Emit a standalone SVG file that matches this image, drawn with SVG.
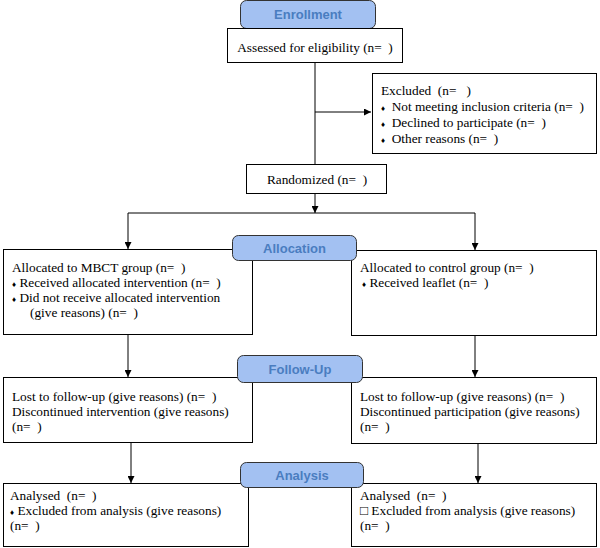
<svg xmlns="http://www.w3.org/2000/svg" width="600" height="548" viewBox="0 0 600 548">
<defs>
<marker id="ah" viewBox="0 0 10 10" refX="10" refY="5" markerWidth="7" markerHeight="7" markerUnits="userSpaceOnUse" orient="auto"><path d="M0,0 L10,5 L0,10 z" fill="#000"/></marker>
<style>
.box{fill:#fff;stroke:#000;stroke-width:1}
.pill{fill:#a3c1f2;stroke:#333;stroke-width:1}
.pt{font-family:"Liberation Sans",Arial,sans-serif;font-weight:bold;font-size:13px;fill:#4a7dc0;text-anchor:middle}
.t{font-family:"Liberation Serif","DejaVu Serif",serif;font-size:13.3px;fill:#000;white-space:pre}
.m{text-anchor:middle}
.b{font-size:8px}
.c{stroke:#000;stroke-width:1;fill:none}
</style>
</defs>
<rect width="600" height="548" fill="#fff"/>
<g id="connectors">
<line class="c" x1="315" y1="62" x2="315" y2="164"/>
<line class="c" x1="315" y1="112" x2="371" y2="112" marker-end="url(#ah)"/>
<line class="c" x1="315" y1="193" x2="315" y2="213" marker-end="url(#ah)"/>
<line class="c" x1="128" y1="213" x2="475" y2="213"/>
<line class="c" x1="128" y1="213" x2="128" y2="249" marker-end="url(#ah)"/>
<line class="c" x1="475" y1="213" x2="475" y2="250" marker-end="url(#ah)"/>
<line class="c" x1="128" y1="334" x2="128" y2="377" marker-end="url(#ah)"/>
<line class="c" x1="475" y1="335" x2="475" y2="377" marker-end="url(#ah)"/>
<line class="c" x1="131" y1="442" x2="131" y2="483" marker-end="url(#ah)"/>
<line class="c" x1="478" y1="443" x2="478" y2="483" marker-end="url(#ah)"/>
</g>
<g id="enrollment">
<rect class="pill" x="240.5" y="0.5" width="135" height="28" rx="6"/>
<text class="pt" x="308" y="19">Enrollment</text>
</g>
<g id="assessed">
<rect class="box" x="227.5" y="28.5" width="175" height="34"/>
<text class="t m" x="315" y="52">Assessed for eligibility (n=  )</text>
</g>
<g id="excluded">
<rect class="box" x="372.5" y="73.5" width="224" height="80"/>
<text class="t" x="381" y="95">Excluded  (n=   )</text>
<text class="t" x="381" y="111"><tspan class="b">♦</tspan>  Not meeting inclusion criteria (n=  )</text>
<text class="t" x="381" y="127"><tspan class="b">♦</tspan>  Declined to participate (n=  )</text>
<text class="t" x="381" y="143"><tspan class="b">♦</tspan>  Other reasons (n=  )</text>
</g>
<g id="randomized">
<rect class="box" x="246.5" y="164.5" width="140" height="29"/>
<text class="t m" x="317" y="184">Randomized (n=  )</text>
</g>
<g id="alloc-left">
<rect class="box" x="3.5" y="249.5" width="249" height="85"/>
<text class="t" x="12" y="272">Allocated to MBCT group (n=  )</text>
<text class="t" x="12" y="287"><tspan class="b">♦</tspan> Received allocated intervention (n=  )</text>
<text class="t" x="12" y="302"><tspan class="b">♦</tspan> Did not receive allocated intervention</text>
<text class="t" x="30" y="317">(give reasons) (n=  )</text>
</g>
<g id="alloc-right">
<rect class="box" x="351.5" y="250.5" width="245" height="85"/>
<text class="t" x="360" y="272">Allocated to control group (n=  )</text>
<text class="t" x="362" y="287"><tspan class="b">♦</tspan> Received leaflet (n=  )</text>
</g>
<g id="allocation">
<rect class="pill" x="232.5" y="235.5" width="124" height="25" rx="6"/>
<text class="pt" x="294.5" y="253">Allocation</text>
</g>
<g id="follow-left">
<rect class="box" x="3.5" y="377.5" width="249" height="65"/>
<text class="t" x="12" y="401">Lost to follow-up (give reasons) (n=  )</text>
<text class="t" x="12" y="416">Discontinued intervention (give reasons)</text>
<text class="t" x="12" y="431">(n=  )</text>
</g>
<g id="follow-right">
<rect class="box" x="351.5" y="377.5" width="245" height="66"/>
<text class="t" x="360" y="401">Lost to follow-up (give reasons) (n=  )</text>
<text class="t" x="360" y="416">Discontinued participation (give reasons)</text>
<text class="t" x="360" y="431">(n=  )</text>
</g>
<g id="followup">
<rect class="pill" x="237.5" y="355.5" width="125" height="27" rx="6"/>
<text class="pt" x="300" y="374">Follow-Up</text>
</g>
<g id="analysis-left">
<rect class="box" x="3.5" y="483.5" width="245" height="63"/>
<text class="t" x="10" y="500">Analysed  (n=  )</text>
<text class="t" x="10" y="515"><tspan class="b">♦</tspan> Excluded from analysis (give reasons)</text>
<text class="t" x="10" y="530">(n=  )</text>
</g>
<g id="analysis-right">
<rect class="box" x="351.5" y="483.5" width="245" height="63"/>
<text class="t" x="360" y="500">Analysed  (n=  )</text>
<text class="t" x="360" y="515">□ Excluded from analysis (give reasons)</text>
<text class="t" x="360" y="530">(n=  )</text>
</g>
<g id="analysis">
<rect class="pill" x="240.5" y="462.5" width="123" height="25" rx="6"/>
<text class="pt" x="302" y="480">Analysis</text>
</g>
</svg>
